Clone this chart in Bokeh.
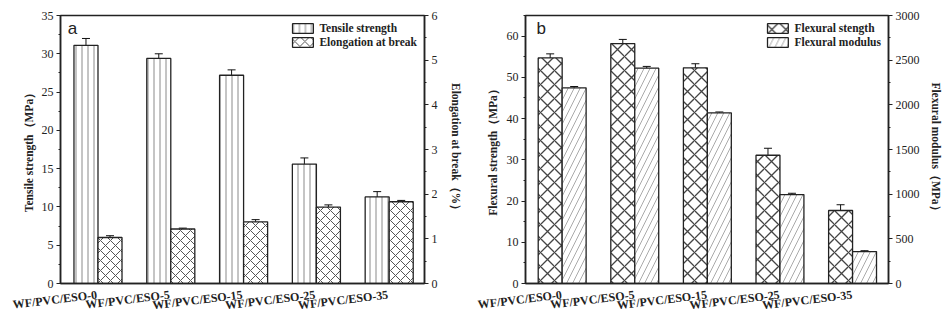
from bokeh.plotting import figure
from bokeh.models import (ColumnDataSource, FactorRange, Range1d, LinearAxis,
                          SingleIntervalTicker, Whisker, Legend, LegendItem, Label, TeeHead)
from bokeh.transform import dodge
from bokeh.layouts import row
from bokeh.embed import file_html
from bokeh.resources import INLINE

# ---------------- data ----------------
categories = ["WF/PVC/ESO-0", "WF/PVC/ESO-5", "WF/PVC/ESO-15", "WF/PVC/ESO-25", "WF/PVC/ESO-35"]

tensile_strength = [31.1, 29.4, 27.2, 15.6, 11.3]
tensile_err = [0.9, 0.6, 0.7, 0.8, 0.7]
elongation = [1.03, 1.22, 1.38, 1.71, 1.83]
elongation_err = [0.04, 0.02, 0.05, 0.05, 0.03]

flexural_strength = [54.7, 58.2, 52.3, 31.1, 17.7]
flexural_strength_err = [1.0, 1.0, 1.0, 1.7, 1.4]
flexural_modulus = [2190, 2410, 1910, 995, 357]
flexural_modulus_err = [15, 20, 10, 15, 10]

SERIF = "Liberation Serif"
SANS = "Liberation Sans"
INK = "#222222"
HEIGHT = 322
BOTTOM = 38


def style_axis(ax, standoff=6):
    ax.axis_line_color = INK
    ax.axis_line_width = 1.5
    ax.major_tick_line_color = INK
    ax.minor_tick_line_color = INK
    ax.major_tick_in = 0
    ax.major_tick_out = 4
    ax.minor_tick_in = 0
    ax.minor_tick_out = 2
    ax.major_label_text_font = SERIF
    ax.major_label_text_font_size = "12px"
    ax.major_label_text_color = INK
    ax.axis_label_text_font = SERIF
    ax.axis_label_text_font_style = "bold"
    ax.axis_label_text_font_size = "11.5px"
    ax.axis_label_text_color = INK
    ax.axis_label_standoff = standoff
    ax.major_label_standoff = 3


def make_panel(width, bl, br, bt, y1_max, y1_int, y2_max, y2_int, v1, e1, v2, e2,
               off1, off2, ylab1, ylab2, leg1, leg2, hatch1, hatch2, letter, letter_x,
               sl, sr):
    src = ColumnDataSource(dict(
        cat=categories,
        v1=v1, v1_up=[a + b for a, b in zip(v1, e1)], v1_lo=[a - b for a, b in zip(v1, e1)],
        v2=v2, v2_up=[a + b for a, b in zip(v2, e2)], v2_lo=[a - b for a, b in zip(v2, e2)],
    ))
    p = figure(x_range=FactorRange(*categories, range_padding=0), y_range=Range1d(0, y1_max),
               width=width, height=HEIGHT, output_backend="svg", toolbar_location=None,
               min_border_left=bl, min_border_right=br, min_border_top=bt,
               min_border_bottom=BOTTOM)
    p.extra_y_ranges = {"right": Range1d(0, y2_max)}
    p.xgrid.visible = False
    p.ygrid.visible = False
    p.outline_line_color = INK
    p.outline_line_width = 1.5
    p.background_fill_color = "white"
    p.border_fill_color = "white"

    p.yaxis.ticker = SingleIntervalTicker(interval=y1_int, num_minor_ticks=2)
    p.yaxis.axis_label = ylab1
    style_axis(p.yaxis[0], sl)

    rax = LinearAxis(y_range_name="right", ticker=SingleIntervalTicker(interval=y2_int, num_minor_ticks=2),
                     axis_label=ylab2)
    style_axis(rax, sr)
    p.add_layout(rax, "right")

    xa = p.xaxis[0]
    style_axis(xa)
    xa.major_tick_out = 0
    xa.major_label_orientation = 0.12
    xa.major_label_text_font_style = "bold"
    xa.major_label_text_font_size = "12px"
    xa.major_label_standoff = 11

    w = 0.33
    r1 = p.vbar(x=dodge("cat", off1, range=p.x_range), top="v1", width=w, source=src,
                fill_color="white", line_color=INK, line_width=1.3, **hatch1)
    r2 = p.vbar(x=dodge("cat", off2, range=p.x_range), top="v2", width=w, source=src,
                y_range_name="right", fill_color="white", line_color=INK, line_width=1.3, **hatch2)

    for off, up, lo, rn in [(off1, "v1_up", "v1_lo", "default"), (off2, "v2_up", "v2_lo", "right")]:
        wk = Whisker(base=dodge("cat", off, range=p.x_range), upper=up, lower=lo, source=src,
                     y_range_name=rn, line_color="#111111", line_width=1,
                     upper_head=TeeHead(size=8, line_color="#111111", line_width=1),
                     lower_head=TeeHead(size=8, line_color="#111111", line_width=1))
        p.add_layout(wk)

    legend = Legend(items=[LegendItem(label=leg1, renderers=[r1]), LegendItem(label=leg2, renderers=[r2])],
                    location="top_right", border_line_color=None, background_fill_alpha=0,
                    label_text_font=SERIF, label_text_font_style="bold", label_text_font_size="11.5px",
                    label_text_color=INK, glyph_width=26, glyph_height=12, label_height=12,
                    spacing=2, padding=3, margin=7, label_standoff=4)
    p.add_layout(legend)

    p.add_layout(Label(x=letter_x, y=y1_max, y_offset=-3, text=letter, text_baseline="top",
                       text_font=SANS, text_font_size="17px", text_color=INK))
    return p


p1 = make_panel(464, 60, 40, 15, 35, 5, 6, 1, tensile_strength, tensile_err, elongation, elongation_err,
                -0.15, 0.18, "Tensile strength（MPa）", "Elongation at break（%）",
                "Tensile strength", "Elongation at break",
                dict(hatch_pattern="vertical_line", hatch_color="#8a8a8a", hatch_scale=6, hatch_weight=1),
                dict(hatch_pattern="diagonal_cross", hatch_color="#555555", hatch_scale=10, hatch_weight=1),
                "a", 0.1, 4, 9)

p2 = make_panel(474, 55, 53, 13, 65, 10, 3000, 500, flexural_strength, flexural_strength_err,
                flexural_modulus, flexural_modulus_err,
                -0.16, 0.17, "Flexural strength（MPa）", "Flexural modulus（MPa）",
                "Flexural stength", "Flexural modulus",
                dict(hatch_pattern="diagonal_cross", hatch_color="#444444", hatch_scale=14, hatch_weight=1.3),
                dict(hatch_pattern="right_diagonal_line", hatch_color="#aaaaaa", hatch_scale=12, hatch_weight=1),
                "b", 0.15, 5, 7)

layout = row(p1, p2, spacing=6)
open("out.html", "w").write(file_html(layout, INLINE))
